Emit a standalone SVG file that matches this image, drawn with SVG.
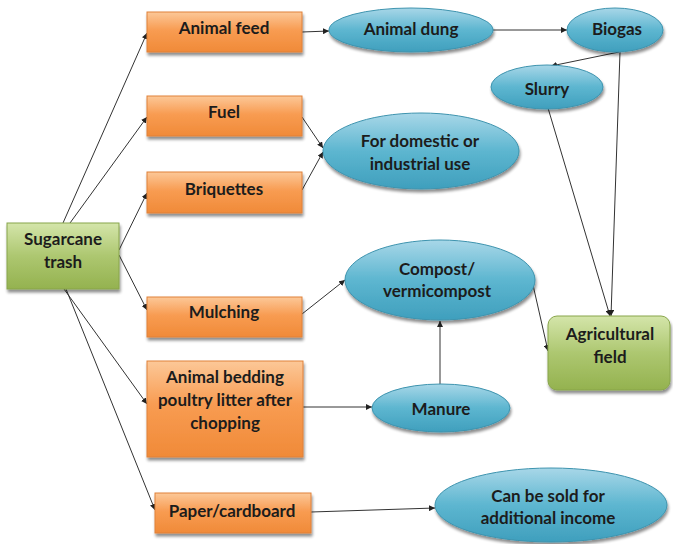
<svg xmlns="http://www.w3.org/2000/svg" width="673" height="544" viewBox="0 0 673 544">
<defs>
<linearGradient id="gO" x1="0" y1="0" x2="0" y2="1">
<stop offset="0" stop-color="#fcc898"/><stop offset="0.45" stop-color="#f89c52"/><stop offset="1" stop-color="#f08a38"/>
</linearGradient>
<linearGradient id="gB" x1="0" y1="0" x2="0" y2="1">
<stop offset="0" stop-color="#a8d7e8"/><stop offset="0.5" stop-color="#5db6d0"/><stop offset="1" stop-color="#3f9fbd"/>
</linearGradient>
<linearGradient id="gG" x1="0" y1="0" x2="0" y2="1">
<stop offset="0" stop-color="#d4e5aa"/><stop offset="0.5" stop-color="#adc770"/><stop offset="1" stop-color="#94b24f"/>
</linearGradient>
<filter id="sh" x="-10%" y="-10%" width="125%" height="135%">
<feGaussianBlur in="SourceAlpha" stdDeviation="1.5"/>
<feOffset dx="1" dy="2.5" result="b"/>
<feComponentTransfer><feFuncA type="linear" slope="0.45"/></feComponentTransfer>
<feMerge><feMergeNode/><feMergeNode in="SourceGraphic"/></feMerge>
</filter>
<marker id="ar" viewBox="0 0 10 10" refX="10" refY="5" markerWidth="6" markerHeight="6" markerUnits="userSpaceOnUse" orient="auto">
<path d="M0,0 L10,5 L0,10 z" fill="#222"/>
</marker>
</defs>
<style>
.o{fill:url(#gO);stroke:#e0813a;stroke-width:1;filter:url(#sh)}
.b{fill:url(#gB);stroke:#3d93ae;stroke-width:1;filter:url(#sh)}
.g{fill:url(#gG);stroke:#88a54b;stroke-width:1;filter:url(#sh)}
text{font-family:Lato,"Open Sans","Liberation Sans",sans-serif;font-weight:bold;font-size:17px;fill:#1c1c1c;text-anchor:middle}
.c line,.c path{stroke:#333;stroke-width:1;fill:none;marker-end:url(#ar)}
</style>
<rect width="673" height="544" fill="#fff"/>
<g class="c" id="connectors">
<line x1="63" y1="223" x2="147" y2="33"/>
<line x1="70" y1="223" x2="147" y2="117"/>
<line x1="119" y1="250" x2="147" y2="193"/>
<line x1="119" y1="255" x2="147" y2="310"/>
<line x1="64" y1="289" x2="147" y2="404"/>
<line x1="66" y1="289" x2="155" y2="510"/>
<line x1="302" y1="32" x2="329" y2="31"/>
<line x1="493" y1="30" x2="567" y2="30"/>
<line x1="619" y1="52" x2="551" y2="66"/>
<line x1="620" y1="52" x2="611" y2="316"/>
<line x1="548" y1="108" x2="610" y2="316"/>
<line x1="302" y1="117" x2="323" y2="148"/>
<line x1="302" y1="190" x2="323" y2="152"/>
<line x1="302" y1="314" x2="345" y2="280"/>
<line x1="533" y1="285" x2="548" y2="351"/>
<line x1="440" y1="385" x2="440" y2="321"/>
<line x1="303" y1="407" x2="372" y2="407"/>
<line x1="311" y1="512" x2="435" y2="508"/>
</g>
<g id="sugarcane"><rect class="g" x="7" y="223" width="112" height="66"/><text x="63" y="245">Sugarcane</text><text x="63" y="268">trash</text></g>
<g id="animal-feed"><rect class="o" x="147" y="12" width="155" height="40"/><text x="224" y="34">Animal feed</text></g>
<g id="fuel"><rect class="o" x="147" y="96" width="155" height="40"/><text x="224" y="118">Fuel</text></g>
<g id="briquettes"><rect class="o" x="147" y="172" width="155" height="41"/><text x="224" y="195">Briquettes</text></g>
<g id="mulching"><rect class="o" x="147" y="297" width="155" height="40"/><text x="224" y="318">Mulching</text></g>
<g id="bedding"><rect class="o" x="147" y="361" width="156" height="96"/><text x="225" y="383">Animal bedding</text><text x="225" y="406">poultry litter after</text><text x="225" y="429">chopping</text></g>
<g id="paper"><rect class="o" x="155" y="493" width="156" height="40"/><text x="232" y="517">Paper/cardboard</text></g>
<g id="animal-dung"><ellipse class="b" cx="411" cy="30" rx="82" ry="22"/><text x="411" y="35">Animal dung</text></g>
<g id="biogas"><ellipse class="b" cx="615" cy="30" rx="48" ry="22"/><text x="617" y="35">Biogas</text></g>
<g id="slurry"><ellipse class="b" cx="547" cy="87" rx="56" ry="22"/><text x="547" y="95">Slurry</text></g>
<g id="domestic"><ellipse class="b" cx="421" cy="151" rx="98" ry="38"/><text x="420" y="147">For domestic or</text><text x="420" y="170">industrial use</text></g>
<g id="compost"><ellipse class="b" cx="440" cy="280" rx="95" ry="40"/><text x="437" y="275">Compost/</text><text x="437" y="297">vermicompost</text></g>
<g id="manure"><ellipse class="b" cx="441" cy="408" rx="69" ry="24"/><text x="441" y="415">Manure</text></g>
<g id="sold"><ellipse class="b" cx="551" cy="505" rx="116" ry="37"/><text x="548" y="502">Can be sold for</text><text x="548" y="524">additional income</text></g>
<g id="agri"><rect class="g" x="548" y="316" width="122" height="74" rx="9"/><text x="610" y="340">Agricultural</text><text x="610" y="363">field</text></g>
</svg>
